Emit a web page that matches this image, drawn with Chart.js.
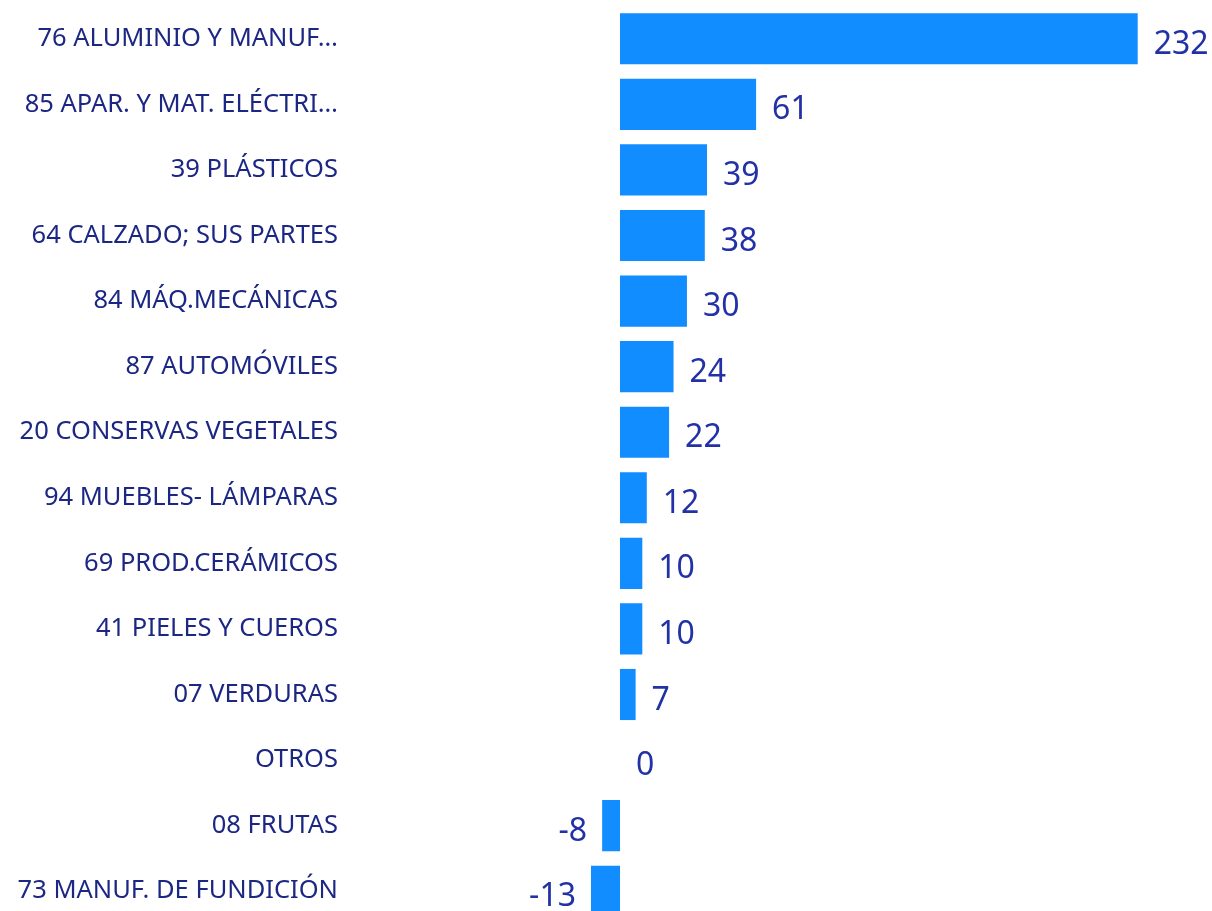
<!DOCTYPE html>
<html>
<head>
<meta charset="utf-8">
<script src="https://cdn.jsdelivr.net/npm/chart.js@4/dist/chart.umd.min.js"></script>
<style>
  html, body { margin: 0; padding: 0; background: #fff; overflow: hidden; }
  #wrap { width: 1212px; height: 911px; overflow: hidden; }
</style>
</head>
<body>
<div id="wrap"><canvas id="bars" width="1212" height="924"></canvas></div>
<script>
const categories = [
  '76 ALUMINIO Y MANUF…',
  '85 APAR. Y MAT. ELÉCTRI…',
  '39 PLÁSTICOS',
  '64 CALZADO; SUS PARTES',
  '84 MÁQ.MECÁNICAS',
  '87 AUTOMÓVILES',
  '20 CONSERVAS VEGETALES',
  '94 MUEBLES- LÁMPARAS',
  '69 PROD.CERÁMICOS',
  '41 PIELES Y CUEROS',
  '07 VERDURAS',
  'OTROS',
  '08 FRUTAS',
  '73 MANUF. DE FUNDICIÓN'
];
const values = [232, 61, 39, 38, 30, 24, 22, 12, 10, 10, 7, 0, -8, -13];

const labelColor = '#1c2783';
const valueColor = '#2231a5';
const barColor = '#118dff';
const fontFamily = '"Noto Sans", sans-serif';

const valueLabels = {
  id: 'valueLabels',
  afterDatasetsDraw(chart) {
    const ctx = chart.ctx;
    const meta = chart.getDatasetMeta(0);
    ctx.save();
    ctx.font = '32px ' + fontFamily;
    ctx.fillStyle = valueColor;
    ctx.textBaseline = 'middle';
    meta.data.forEach((bar, i) => {
      const v = values[i];
      if (v < 0) {
        ctx.textAlign = 'right';
        ctx.fillText(String(v), bar.x - 15, bar.y + 6);
      } else {
        ctx.textAlign = 'left';
        ctx.fillText(String(v), bar.x + 16, bar.y + 6);
      }
    });
    ctx.restore();
  }
};

new Chart(document.getElementById('bars'), {
  type: 'bar',
  data: {
    labels: categories,
    datasets: [{
      data: values,
      backgroundColor: barColor,
      barPercentage: 0.78,
      categoryPercentage: 1
    }]
  },
  options: {
    indexAxis: 'y',
    responsive: false,
    animation: false,
    layout: { padding: { top: 6, right: 0, bottom: 0, left: 0 } },
    plugins: {
      legend: { display: false },
      tooltip: { enabled: false }
    },
    scales: {
      x: {
        display: false,
        min: -121,
        max: 265.3
      },
      y: {
        grid: { display: false, drawTicks: false },
        border: { display: false },
        afterFit(scale) {
          scale.width = 350;
          scale.paddingTop = 0;
          scale.paddingBottom = 0;
        },
        ticks: {
          autoSkip: false,
          padding: 12,
          color: labelColor,
          font: { family: fontFamily, size: 25.5 }
        }
      }
    }
  },
  plugins: [valueLabels]
});
</script>
</body>
</html>
